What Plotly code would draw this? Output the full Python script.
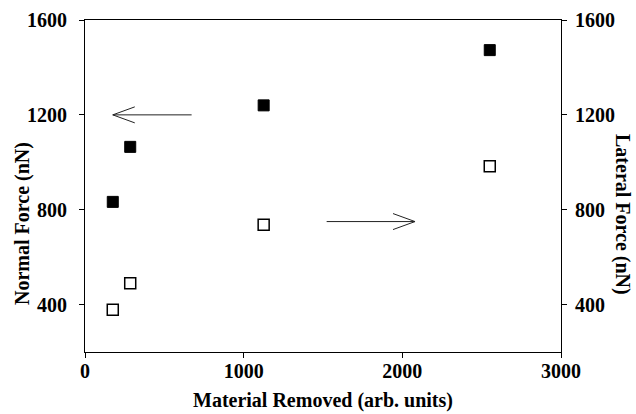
import plotly.graph_objects as go

# Data
material_removed = [175, 285, 1126, 2551]
normal_force = [833, 1065, 1240, 1473]
lateral_force = [378, 490, 737, 983]

x_ticks = [0, 1000, 2000, 3000]
y_ticks = [400, 800, 1200, 1600]

# Arrow annotations (data coords): tail x, tip x, y
arrow_normal = dict(x0=672, x1=175, y=1200)
arrow_lateral = dict(x0=1523, x1=2080, y=750)

FONT = "Liberation Serif"
W, H = 636, 414
ML, MR, MT, MB = 85, 75, 20, 62
XR = [0, 3000]
YR = [200, 1600]
PW, PH = W - ML - MR, H - MT - MB
px_per_x = PW / (XR[1] - XR[0])
px_per_y = PH / (YR[1] - YR[0])

fig = go.Figure()
fig.add_trace(go.Scatter(
    x=material_removed, y=normal_force, mode="markers",
    marker=dict(symbol="square", size=11, color="black", line=dict(color="black", width=1)),
    showlegend=False, yaxis="y"))
fig.add_trace(go.Scatter(
    x=material_removed, y=lateral_force, mode="markers",
    marker=dict(symbol="square", size=11, color="white", line=dict(color="black", width=1.5)),
    showlegend=False, yaxis="y2"))

shapes = []
head_len_px, head_half_px = 22, 8
for a in (arrow_normal, arrow_lateral):
    d = 1 if a["x1"] > a["x0"] else -1
    hx = head_len_px / px_per_x
    hy = head_half_px / px_per_y
    line = dict(color="#222", width=1)
    shapes.append(dict(type="line", xref="x", yref="y", x0=a["x0"], x1=a["x1"], y0=a["y"], y1=a["y"], line=line))
    shapes.append(dict(type="line", xref="x", yref="y", x0=a["x1"], x1=a["x1"] - d * hx, y0=a["y"], y1=a["y"] + hy, line=line))
    shapes.append(dict(type="line", xref="x", yref="y", x0=a["x1"], x1=a["x1"] - d * hx, y0=a["y"], y1=a["y"] - hy, line=line))

tickfont = dict(family=FONT, size=20, color="black", weight="bold")
titlefont = dict(family=FONT, size=20, color="black", weight="bold")

fig.update_layout(
    width=W, height=H,
    margin=dict(l=ML, r=MR, t=MT, b=MB),
    paper_bgcolor="white", plot_bgcolor="white",
    shapes=shapes,
    xaxis=dict(range=XR, tickvals=x_ticks, ticktext=[str(v) for v in x_ticks], automargin=False,
               showgrid=False, zeroline=False, showline=True, linecolor="black", linewidth=1,
               mirror=True, ticks="outside", ticklen=5, tickcolor="black", tickfont=tickfont,
               ticklabelstandoff=-4),
    yaxis=dict(range=YR, tickvals=y_ticks, showgrid=False, zeroline=False, showline=True, automargin=False,
               linecolor="black", linewidth=1, ticks="outside", ticklen=5, tickcolor="black",
               tickfont=tickfont, ticklabelstandoff=8),
    yaxis2=dict(range=YR, tickvals=y_ticks, overlaying="y", side="right", showgrid=False, automargin=False,
                zeroline=False, showline=True, linecolor="black", linewidth=1, ticks="outside",
                ticklen=5, tickcolor="black", tickfont=tickfont, ticklabelstandoff=4),
    annotations=[
        dict(text="Material Removed (arb. units)", xref="paper", yref="paper", x=0.5,
             y=-(H - 1 - (H - MB)) / PH, showarrow=False, font=titlefont, borderpad=0,
             xanchor="center", yanchor="bottom"),
        dict(text="Normal Force (nN)", xref="paper", yref="paper", x=-(ML - 22) / PW,
             y=1 - (224 - MT) / PH, textangle=-90, showarrow=False,
             font=titlefont, xanchor="center", yanchor="middle"),
        dict(text="Lateral Force (nN)", xref="paper", yref="paper", x=1 + (623 - (W - MR)) / PW,
             y=1 - (214 - MT) / PH, textangle=90, showarrow=False,
             font=titlefont, xanchor="center", yanchor="middle"),
    ],
)

fig.write_html("out.html")
